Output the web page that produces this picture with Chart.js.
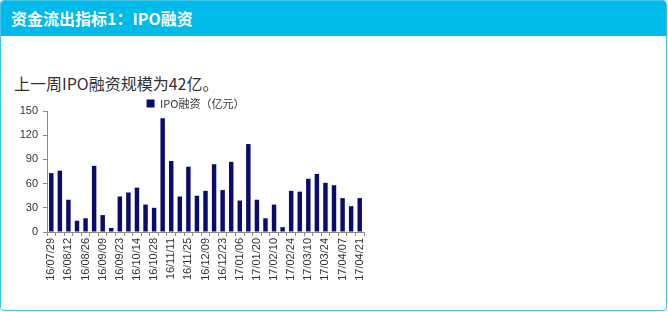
<!DOCTYPE html>
<html>
<head>
<meta charset="utf-8">
<script src="https://cdn.jsdelivr.net/npm/chart.js@4"></script>
<style>
  body { margin: 0; background: #fff; }
  .card {
    position: absolute; left: 0; top: 0; width: 665px; height: 309px;
    border: 1px solid #3fc3e6; border-radius: 4px; overflow: hidden; background: #fff;
  }
  .cabecalho {
    position: absolute; left: 0; top: 0; width: 100%; height: 35px; background: #00bbea;
    color: #fff; font: bold 16px "Noto Sans CJK SC", sans-serif; line-height: 35px; padding-left: 10px;
  }
  .resumo {
    position: absolute; left: 13px; top: 70px; color: #333;
    font: 16px "Noto Sans CJK SC", sans-serif;
  }
  .grafico { position: absolute; left: 0; top: 97px; width: 412px; height: 195px; }
</style>
</head>
<body>
<div class="card">
  <div class="cabecalho">资金流出指标1：IPO融资</div>
  <div class="resumo">上一周IPO融资规模为42亿。</div>
  <div class="grafico"><canvas id="graficoIPO"></canvas></div>
</div>
<script>
// Datas semanais (eixo x)
const datas = [
  '16/07/29', '16/08/05', '16/08/12', '16/08/19', '16/08/26', '16/09/02', '16/09/09', '16/09/16',
  '16/09/23', '16/09/30', '16/10/14', '16/10/21', '16/10/28', '16/11/04', '16/11/11', '16/11/18',
  '16/11/25', '16/12/02', '16/12/09', '16/12/16', '16/12/23', '16/12/30', '17/01/06', '17/01/13',
  '17/01/20', '17/02/03', '17/02/10', '17/02/17', '17/02/24', '17/03/03', '17/03/10', '17/03/17',
  '17/03/24', '17/03/31', '17/04/07', '17/04/14', '17/04/21'
];

// IPO融资（亿元）
const valoresIPO = [
  73, 76, 40, 14, 17, 82, 21, 5, 44, 49, 55, 34, 30, 141, 88, 44, 81, 45, 51, 84,
  52, 87, 39, 109, 40, 17, 34, 6, 51, 50, 66, 72, 61, 58, 42, 32, 42
];

const ticksY = [0, 30, 60, 90, 120, 150];

const corBarra = '#0b0b6e';
const corEixo = '#8a8a8a';
const corTexto = '#333333';

// legenda mais compacta (tira parte da margem fixa de baixo)
const ElementoLegenda = Chart.Legend._element;
const fitOriginal = ElementoLegenda.prototype.fit;
ElementoLegenda.prototype.fit = function () {
  fitOriginal.call(this);
  this.height -= 8;
};

// empurra a legenda um pouco para a direita
const deslocarLegenda = {
  id: 'deslocarLegenda',
  afterLayout(chart) {
    chart.legend.left += 13;
    chart.legend.right += 13;
  }
};

const ctx = document.getElementById('graficoIPO').getContext('2d');
new Chart(ctx, {
  type: 'bar',
  data: {
    labels: datas,
    datasets: [{
      label: 'IPO融资（亿元）',
      data: valoresIPO,
      backgroundColor: corBarra,
      barPercentage: 0.52,
      categoryPercentage: 1
    }]
  },
  options: {
    responsive: true,
    maintainAspectRatio: false,
    animation: false,
    layout: { padding: { left: 0, right: 49, top: 0, bottom: 0 } },
    plugins: {
      legend: {
        position: 'top',
        labels: {
          boxWidth: 8, boxHeight: 8, padding: 0,
          color: corTexto,
          font: { family: "'Noto Sans CJK SC', sans-serif", size: 11 }
        }
      },
      tooltip: { enabled: false }
    },
    scales: {
      x: {
        grid: { offset: true, drawOnChartArea: false, drawTicks: true, tickLength: 4, color: corEixo },
        border: { color: corEixo },
        ticks: {
          autoSkip: false, minRotation: 90, maxRotation: 90, padding: 2,
          color: corTexto,
          font: { family: "'Liberation Sans', Arial, sans-serif", size: 11 },
          callback: (v, i) => (i % 2 === 0 ? datas[i] : '')
        },
        afterFit: escala => { escala.height = 61; }
      },
      y: {
        min: 0, max: 150,
        grid: { drawOnChartArea: false, drawTicks: true, tickLength: 4, color: corEixo },
        border: { color: corEixo },
        afterBuildTicks: escala => { escala.ticks = ticksY.map(v => ({ value: v })); },
        ticks: {
          padding: 5, color: corTexto,
          font: { family: "'Liberation Sans', Arial, sans-serif", size: 11 }
        },
        afterFit: escala => { escala.width = 46; }
      }
    }
  },
  plugins: [deslocarLegenda]
});
</script>
</body>
</html>
